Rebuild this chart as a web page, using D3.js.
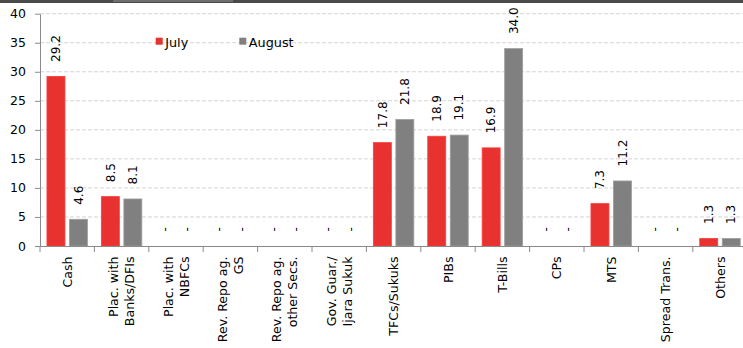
<!DOCTYPE html>
<html>
<head>
<meta charset="utf-8">
<script src="https://cdn.jsdelivr.net/npm/d3@7/dist/d3.min.js"></script>
<style>
  html, body { margin: 0; padding: 0; background: #fff; }
  svg { display: block; }
  text { font-family: "DejaVu Sans", Verdana, sans-serif; fill: #000; }
</style>
</head>
<body>
<svg id="chart" width="743" height="348"></svg>
<script>
const categories = [
  "Cash", "Plac. with\nBanks/DFIs", "Plac. with\nNBFCs", "Rev. Repo ag.\nGS",
  "Rev. Repo ag.\nother Secs.", "Gov. Guar./\nIjara Sukuk", "TFCs/Sukuks", "PIBs",
  "T-Bills", "CPs", "MTS", "Spread Trans.", "Others"
];
const seriesNames = ["July", "August"];
const july   = [29.2, 8.5, null, null, null, null, 17.8, 18.9, 16.9, null, 7.3, null, 1.3];
const august = [4.6, 8.1, null, null, null, null, 21.8, 19.1, 34.0, null, 11.2, null, 1.3];
const yTicks = [0, 5, 10, 15, 20, 25, 30, 35, 40];
const colors = ["#e8322f", "#808080"];

(function () {
const svg = d3.select("#chart");
const W = 743;
const pLeft = 40, pRight = 747.2, pTop = 13.7, pBottom = 246;

// top clipped band
svg.append("rect").attr("x", 0).attr("y", 0).attr("width", W).attr("height", 3).attr("fill", "#4a4a4a");
svg.append("rect").attr("x", 113).attr("y", 0).attr("width", 120).attr("height", 2).attr("fill", "#6e6e6e");

const x = d3.scaleBand().domain(d3.range(categories.length)).range([pLeft, pRight]).paddingInner(0).paddingOuter(0);
const xs = d3.scaleBand().domain(seriesNames).range([0, x.bandwidth()]).paddingInner(0.2).paddingOuter(0.309);
const y = d3.scaleLinear().domain([0, 40]).range([pBottom, pTop]);

// gridlines
svg.append("g").selectAll("line").data(yTicks.filter(t => t > 0)).join("line")
  .attr("x1", pLeft).attr("x2", W)
  .attr("y1", d => y(d)).attr("y2", d => y(d))
  .attr("stroke", "#d4d4d4").attr("stroke-width", 1).attr("stroke-dasharray", "4,2");

// bars
const data = seriesNames.map((s, i) => ({ name: s, values: i === 0 ? july : august, color: colors[i] }));
const barsG = svg.append("g");
data.forEach(s => {
  const g = barsG.append("g");
  s.values.forEach((v, ci) => {
    const bx = x(ci) + xs(s.name);
    const cx = bx + xs.bandwidth() / 2;
    if (v !== null) {
      g.append("rect")
        .attr("x", bx).attr("width", xs.bandwidth())
        .attr("y", y(v)).attr("height", y(0) - y(v))
        .attr("fill", s.color)
        .attr("stroke", d3.color(s.color).brighter(0.6)).attr("stroke-width", 0.8);
    }
    const ly = y(v === null ? 0 : v) - 14.5;
    g.append("text")
      .attr("transform", `translate(${cx},${ly}) rotate(-90)`)
      .attr("dy", "0.35em")
      .attr("text-anchor", "start")
      .style("font-size", "12px")
      .text(v === null ? "-" : v.toFixed(1));
  });
});

// y axis
const yAxis = d3.axisLeft(y).tickValues(yTicks).tickSize(5).tickSizeOuter(0).tickPadding(9);
const yg = svg.append("g").attr("transform", `translate(${pLeft},0)`).call(yAxis);
yg.select(".domain").attr("stroke", "#8a8a8a");
yg.selectAll(".tick line").attr("stroke", "#8a8a8a");
yg.selectAll(".tick text").style("font-size", "12.5px").style("font-family", "DejaVu Sans, sans-serif").attr("fill", "#000");

// x axis line and ticks at band boundaries
svg.append("line").attr("x1", pLeft).attr("x2", W).attr("y1", pBottom + 0.5).attr("y2", pBottom + 0.5).attr("stroke", "#8a8a8a");
svg.append("g").selectAll("line").data(d3.range(categories.length + 1)).join("line")
  .attr("x1", i => pLeft + i * x.step()).attr("x2", i => pLeft + i * x.step())
  .attr("y1", pBottom).attr("y2", pBottom + 6)
  .attr("stroke", "#8a8a8a");

// x labels
const lineH = 16;
categories.forEach((c, i) => {
  const lines = c.split("\n");
  const cx = x(i) + x.bandwidth() / 2;
  const t = svg.append("text")
    .attr("transform", `translate(${cx},256.5) rotate(-90)`)
    .attr("text-anchor", "end")
    .style("font-size", "12.6px");
  lines.forEach((ln, k) => {
    t.append("tspan").attr("x", 0)
      .attr("y", (k - (lines.length - 1) / 2) * lineH + 4.6)
      .text(ln);
  });
});

// legend
const legend = [{ name: "July", x: 155.7, color: colors[0] }, { name: "August", x: 239.3, color: colors[1] }];
legend.forEach(l => {
  svg.append("rect").attr("x", l.x).attr("y", 37.7).attr("width", 7).attr("height", 7).attr("fill", l.color);
  svg.append("text").attr("x", l.x + 9.5).attr("y", 46.5).style("font-size", "12.8px").text(l.name);
});
})();
</script>
</body>
</html>
